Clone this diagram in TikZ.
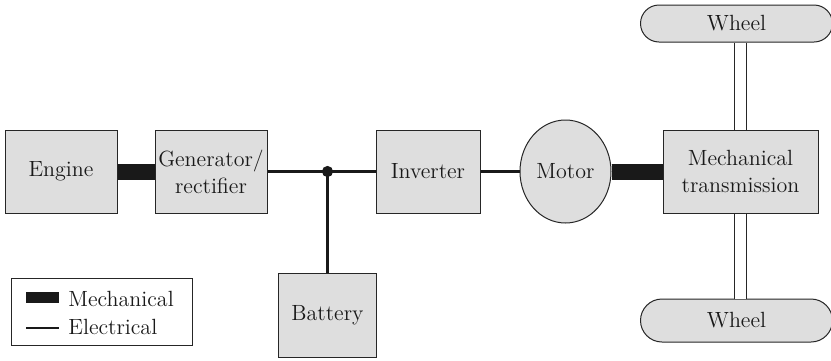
\documentclass[tikz,border=0pt]{standalone}
\usetikzlibrary{positioning,shapes.misc,shapes.geometric}

\begin{document}
\begin{tikzpicture}[
    x=0.5pt, y=-0.5pt,
    node distance=18.5pt,
    label font/.style={font=\fontsize{11}{13.5}\selectfont},
    block/.style={rectangle, draw=black!85, line width=0.5pt, fill=black!13, text=black!90, align=center, minimum height=41.5pt, inner sep=1pt, label font},
    wheel/.style={block, rounded rectangle, minimum width=98pt, minimum height=18.5pt},
    mech/.style={line width=8pt, black!90},
    elec/.style={line width=1.3pt, black!90},
    shaft/.style={double, double distance=5.5pt, line width=0.5pt, draw=black!85}
]
    \useasboundingbox (0,0) rectangle (831,360);

    \node[block, minimum width=56pt] (engine) at (61,171.5) {Engine};
    \node[block, minimum width=56pt, inner xsep=0pt, right=18.5pt of engine] (gen) {Generator/\\rectifier};
    \node[block, minimum width=52pt, right=54pt of gen] (inv) {Inverter};
    \node[block, ellipse, inner sep=0pt, minimum width=45.5pt, minimum height=51.5pt, right=19.5pt of inv] (motor) {Motor};
    \node[block, minimum width=77.5pt, right=25.5pt of motor] (trans) {Mechanical\\transmission};

    \coordinate[right=30pt of gen.east] (junc);
    \node[block, minimum width=49pt, minimum height=42pt, below=50.5pt of junc] (batt) {Battery};

    \node[wheel, above=43.5pt of trans, xshift=-2pt] (wtop) {Wheel};
    \node[wheel, minimum height=21.5pt, below=42.5pt of trans, xshift=-2pt] (wbot) {Wheel};

    % power flow
    \draw[mech] (engine) -- (gen);
    \draw[elec] (gen) -- (junc) -- (inv);
    \draw[elec] (junc) -- (batt);
    \draw[elec] (inv) -- (motor);
    \draw[mech] (motor) -- (trans);
    \fill[black!90] (junc) circle (2.8pt);

    % axles
    \draw[shaft] (trans.north) -- (trans.north |- wtop.south);
    \draw[shaft] (trans.south) -- (trans.south |- wbot.north);

    % legend
    \node[draw=black!85, line width=0.5pt, minimum width=90.5pt, minimum height=33.5pt, anchor=north west] (legend) at (11,278) {};
    \node[anchor=base west, inner sep=2pt, text=black!90, label font] (lmech) at (64,306) {Mechanical};
    \node[anchor=base west, inner sep=2pt, text=black!90, label font] (lelec) at (64,334) {Electrical};
    \draw[line width=5.5pt, black!90] (26,297.5) -- (59,297.5);
    \draw[elec] (26,328) -- (59,328);
\end{tikzpicture}
\end{document}
